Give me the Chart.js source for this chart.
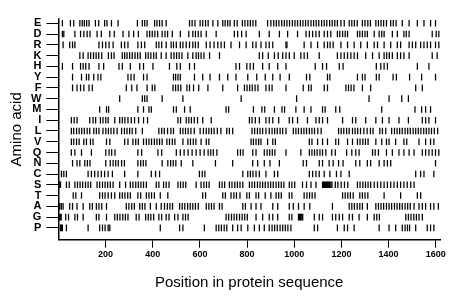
<!DOCTYPE html>
<html>
<head>
<meta charset="utf-8">
<script src="https://cdn.jsdelivr.net/npm/chart.js@4.4.1/dist/chart.umd.min.js"></script>
<style>
  html, body { margin: 0; padding: 0; background: #fff; }
  #wrap { width: 460px; height: 299px; }
</style>
</head>
<body>
<div id="wrap"><canvas id="chart"></canvas></div>
<script>
// rows, top to bottom
const aminoAcids = ['E', 'D', 'R', 'K', 'H', 'Y', 'F', 'W', 'M', 'I', 'L', 'V', 'Q', 'N', 'C', 'S', 'T', 'A', 'G', 'P'];

// residue positions of each amino acid
const posE = [17, 51, 65, 91, 101, 110, 120, 130, 157, 171, 196, 206, 225, 253, 335, 356, 366, 376, 408, 418, 429, 440, 457, 556, 567, 579, 601, 612, 624, 635, 655, 676, 697, 707, 718, 728, 746, 758, 780, 791, 803, 814, 825, 837, 887, 901, 913, 924, 935, 947, 958, 969, 980, 992, 1003, 1014, 1026, 1037, 1048, 1059, 1071, 1082, 1093, 1104, 1116, 1127, 1138, 1150, 1161, 1172, 1183, 1198, 1212, 1233, 1244, 1255, 1267, 1289, 1300, 1312, 1323, 1346, 1357, 1368, 1379, 1391, 1409, 1420, 1432, 1458, 1487, 1522, 1550, 1578, 1599];
const posD = [17, 23, 70, 94, 108, 122, 134, 164, 182, 218, 237, 274, 299, 319, 339, 376, 387, 398, 409, 421, 440, 452, 463, 483, 517, 553, 570, 581, 593, 605, 627, 669, 746, 760, 777, 796, 852, 894, 937, 972, 1014, 1050, 1064, 1078, 1092, 1106, 1127, 1141, 1155, 1183, 1193, 1205, 1216, 1226, 1268, 1278, 1289, 1300, 1310, 1339, 1360, 1371, 1381, 1416, 1437, 1465, 1475, 1487, 1585, 1602, 1613];
const posR = [20, 48, 60, 70, 172, 187, 201, 215, 232, 267, 281, 295, 337, 352, 366, 415, 426, 438, 457, 478, 488, 500, 517, 528, 542, 556, 570, 581, 593, 627, 643, 660, 676, 690, 704, 732, 768, 796, 824, 838, 859, 880, 894, 909, 965, 969, 1042, 1071, 1099, 1127, 1141, 1152, 1165, 1198, 1226, 1254, 1282, 1310, 1339, 1353, 1381, 1409, 1437, 1451, 1487, 1501, 1515, 1536, 1550, 1564, 1578, 1599, 1613];
const posK = [91, 105, 126, 137, 149, 160, 171, 184, 212, 225, 236, 271, 281, 291, 302, 313, 325, 336, 347, 370, 381, 392, 404, 415, 436, 457, 478, 490, 501, 512, 524, 549, 570, 584, 594, 605, 617, 641, 683, 852, 866, 890, 916, 932, 951, 965, 979, 1000, 1028, 1042, 1056, 1106, 1183, 1198, 1212, 1226, 1240, 1254, 1268, 1303, 1332, 1360, 1381, 1392, 1403, 1416, 1437, 1451, 1465, 1487, 1585, 1606];
const posH = [17, 60, 94, 105, 116, 130, 172, 192, 257, 271, 305, 345, 361, 401, 471, 502, 517, 556, 577, 753, 768, 799, 813, 827, 866, 894, 930, 965, 1089, 1120, 1137, 1191, 1207, 1348, 1367, 1381, 1395, 1522, 1571];
const posY = [60, 98, 119, 129, 150, 168, 180, 295, 308, 321, 361, 376, 488, 497, 507, 517, 577, 612, 643, 683, 718, 753, 803, 841, 877, 909, 940, 979, 1052, 1066, 1141, 1151, 1268, 1289, 1300, 1348, 1360, 1419, 1433, 1489, 1540, 1599];
const posF = [60, 79, 94, 108, 130, 144, 288, 311, 333, 376, 398, 409, 486, 497, 508, 519, 545, 556, 573, 595, 634, 697, 760, 789, 800, 811, 822, 834, 846, 880, 894, 906, 965, 1038, 1061, 1072, 1127, 1141, 1219, 1230, 1241, 1253, 1289, 1324, 1515, 1543];
const posW = [260, 356, 366, 376, 440, 528, 775, 1010, 1317, 1402, 1456, 1484];
const posM = [175, 204, 213, 337, 361, 384, 394, 488, 500, 535, 559, 711, 722, 827, 863, 875, 916, 948, 959, 1007, 1042, 1071, 1120, 1131, 1176, 1193, 1371, 1512, 1540, 1557, 1578];
const posI = [55, 67, 79, 133, 147, 158, 178, 189, 201, 211, 239, 260, 271, 282, 295, 309, 323, 340, 361, 378, 507, 518, 542, 553, 564, 576, 590, 612, 648, 810, 821, 835, 852, 880, 894, 909, 934, 979, 993, 1014, 1056, 1092, 1106, 1120, 1141, 1205, 1247, 1261, 1303, 1346, 1374, 1402, 1444, 1484, 1543, 1557, 1571, 1599];
const posL = [55, 65, 77, 88, 99, 110, 122, 133, 150, 161, 172, 189, 201, 212, 223, 235, 249, 268, 280, 291, 302, 313, 328, 356, 426, 438, 449, 463, 477, 488, 517, 528, 539, 550, 562, 576, 601, 615, 627, 638, 649, 660, 674, 689, 714, 725, 739, 821, 832, 844, 855, 866, 880, 894, 906, 917, 928, 940, 951, 965, 996, 1007, 1018, 1030, 1041, 1052, 1064, 1075, 1086, 1100, 1114, 1188, 1199, 1210, 1222, 1233, 1247, 1258, 1269, 1281, 1295, 1309, 1323, 1334, 1363, 1374, 1388, 1413, 1425, 1436, 1447, 1458, 1470, 1481, 1492, 1504, 1515, 1526, 1537, 1549, 1560, 1571, 1582, 1594, 1608];
const posV = [55, 65, 77, 88, 108, 119, 136, 147, 204, 218, 281, 295, 316, 328, 339, 361, 373, 384, 395, 407, 418, 429, 440, 460, 471, 483, 494, 528, 549, 560, 572, 583, 605, 627, 638, 817, 827, 838, 849, 859, 887, 909, 920, 1064, 1075, 1099, 1120, 1141, 1176, 1188, 1226, 1247, 1268, 1279, 1291, 1302, 1313, 1346, 1371, 1391, 1402, 1430, 1465, 1477, 1529, 1557, 1578, 1592];
const posQ = [55, 70, 98, 140, 201, 215, 226, 240, 337, 353, 422, 438, 500, 517, 533, 550, 567, 584, 601, 618, 635, 646, 657, 672, 760, 772, 783, 824, 838, 873, 885, 896, 907, 918, 965, 1028, 1064, 1075, 1086, 1097, 1109, 1120, 1134, 1159, 1174, 1222, 1244, 1261, 1275, 1332, 1343, 1357, 1391, 1416, 1444, 1465, 1487, 1508, 1543, 1557, 1571, 1585, 1599, 1613];
const posN = [60, 79, 91, 112, 123, 134, 201, 220, 232, 243, 254, 268, 280, 337, 349, 360, 371, 440, 464, 476, 487, 498, 521, 570, 666, 739, 824, 845, 873, 897, 937, 1038, 1052, 1106, 1120, 1148, 1165, 1188, 1207, 1261, 1278, 1310, 1324, 1360, 1381, 1395, 1409, 1599];
const posC = [13, 23, 34, 126, 140, 154, 168, 182, 196, 211, 229, 281, 337, 394, 412, 429, 598, 610, 621, 782, 803, 814, 825, 838, 852, 880, 916, 930, 1064, 1078, 1092, 1106, 1127, 1151, 1179, 1198, 1233, 1515, 1536, 1550, 1592];
const posS = [6, 9, 34, 46, 70, 81, 92, 103, 115, 126, 137, 164, 175, 187, 198, 209, 220, 232, 260, 285, 305, 316, 328, 339, 350, 361, 373, 415, 426, 446, 457, 469, 507, 518, 529, 540, 584, 605, 617, 628, 639, 683, 694, 705, 725, 736, 748, 759, 770, 782, 810, 821, 832, 844, 855, 866, 877, 889, 900, 911, 923, 934, 945, 956, 979, 990, 1002, 1035, 1052, 1071, 1092, 1120, 1124, 1128, 1133, 1137, 1141, 1146, 1150, 1155, 1160, 1174, 1185, 1199, 1213, 1227, 1268, 1279, 1291, 1302, 1313, 1324, 1339, 1353, 1367, 1381, 1395, 1409, 1423, 1437, 1451, 1465, 1479, 1494, 1508];
const posT = [63, 74, 98, 175, 187, 198, 211, 225, 239, 260, 271, 282, 294, 305, 337, 349, 373, 384, 395, 407, 432, 464, 612, 624, 697, 708, 732, 744, 755, 770, 799, 810, 838, 849, 877, 901, 923, 934, 945, 979, 990, 1042, 1054, 1065, 1076, 1088, 1205, 1216, 1227, 1238, 1250, 1278, 1289, 1300, 1312, 1381, 1451, 1522, 1536];
const posA = [2, 6, 13, 20, 48, 60, 79, 105, 133, 144, 161, 172, 184, 204, 288, 299, 311, 322, 345, 356, 367, 390, 415, 436, 450, 462, 473, 484, 514, 525, 536, 548, 559, 570, 581, 593, 627, 638, 649, 660, 683, 694, 782, 793, 817, 838, 859, 909, 930, 979, 996, 1018, 1042, 1066, 1162, 1233, 1244, 1255, 1267, 1278, 1289, 1310, 1346, 1357, 1368, 1379, 1391, 1402, 1413, 1425, 1436, 1447, 1458, 1470, 1481, 1492, 1508, 1529, 1543, 1557, 1578, 1592, 1611];
const posG = [3, 8, 12, 31, 43, 70, 81, 105, 161, 172, 204, 239, 250, 261, 273, 284, 295, 330, 342, 370, 381, 392, 404, 426, 438, 457, 469, 493, 507, 528, 539, 550, 711, 722, 734, 745, 756, 768, 779, 790, 801, 838, 866, 894, 909, 930, 979, 990, 1018, 1022, 1027, 1032, 1036, 1085, 1106, 1120, 1162, 1176, 1191, 1205, 1233, 1247, 1275, 1310, 1339, 1350, 1361, 1473, 1484, 1495, 1507, 1518, 1529, 1543];
const posP = [9, 13, 17, 34, 126, 175, 187, 198, 211, 218, 432, 514, 528, 619, 669, 680, 691, 703, 714, 739, 760, 775, 803, 831, 852, 873, 894, 906, 917, 928, 940, 951, 962, 973, 986, 1085, 1099, 1183, 1212, 1226, 1254, 1360, 1402, 1430, 1458, 1470, 1480, 1489, 1515, 1564, 1578, 1592];

const positions = [posE, posD, posR, posK, posH, posY, posF, posW, posM, posI,
  posL, posV, posQ, posN, posC, posS, posT, posA, posG, posP];

const xTicks = [200, 400, 600, 800, 1000, 1200, 1400, 1600];

const nRows = aminoAcids.length;
const rowValue = i => nRows - 1 - i;   // E on top, P at the bottom

let points = [];
positions.forEach((list, i) => {
  list.forEach(p => points.push({ x: p, y: rowValue(i) }));
});

const FONT = "'Liberation Sans', Arial, sans-serif";

const ctx = document.getElementById('chart').getContext('2d');

let chart = new Chart(ctx, {
  type: 'scatter',
  data: {
    datasets: [{
      data: points,
      pointStyle: 'line',
      rotation: 90,
      radius: 3.3,
      borderWidth: 1.25,
      borderColor: '#000',
      backgroundColor: '#000',
      hoverRadius: 3.3
    }]
  },
  options: {
    responsive: true,
    maintainAspectRatio: false,
    animation: false,
    events: [],
    layout: {
      padding: { left: 6, right: 20, top: 19, bottom: 3 }
    },
    scales: {
      x: {
        type: 'linear',
        min: 0,
        max: 1618,
        afterBuildTicks: scale => {
          scale.ticks = xTicks.map(v => ({ value: v }));
        },
        grid: {
          drawOnChartArea: false,
          color: '#000',
          tickColor: '#000',
          tickLength: 8
        },
        border: { color: '#000', width: 1.5 },
        ticks: {
          color: '#000',
          padding: 1,
          autoSkip: false,
          maxRotation: 0,
          font: { family: FONT, size: 9, weight: 'bold' },
          callback: v => String(v)
        },
        title: {
          display: true,
          text: 'Position in protein sequence',
          color: '#000',
          font: { family: FONT, size: 15 },
          padding: { top: 13.5, bottom: 4 }
        }
      },
      y: {
        type: 'linear',
        min: -1.1,
        max: 19.4,
        afterBuildTicks: scale => {
          scale.ticks = aminoAcids.map((a, i) => ({ value: i }));
        },
        grid: {
          drawOnChartArea: false,
          color: '#000',
          tickColor: '#000',
          tickLength: 12
        },
        border: { color: '#000', width: 1.5 },
        ticks: {
          color: '#000',
          padding: 5,
          autoSkip: false,
          font: { family: FONT, size: 11, weight: 'bold' },
          callback: v => aminoAcids[nRows - 1 - v]
        },
        title: {
          display: true,
          text: 'Amino acid',
          color: '#000',
          font: { family: FONT, size: 15 },
          padding: { top: 2, bottom: 0 }
        }
      }
    },
    plugins: {
      legend: { display: false },
      tooltip: { enabled: false }
    }
  }
});
</script>
</body>
</html>
